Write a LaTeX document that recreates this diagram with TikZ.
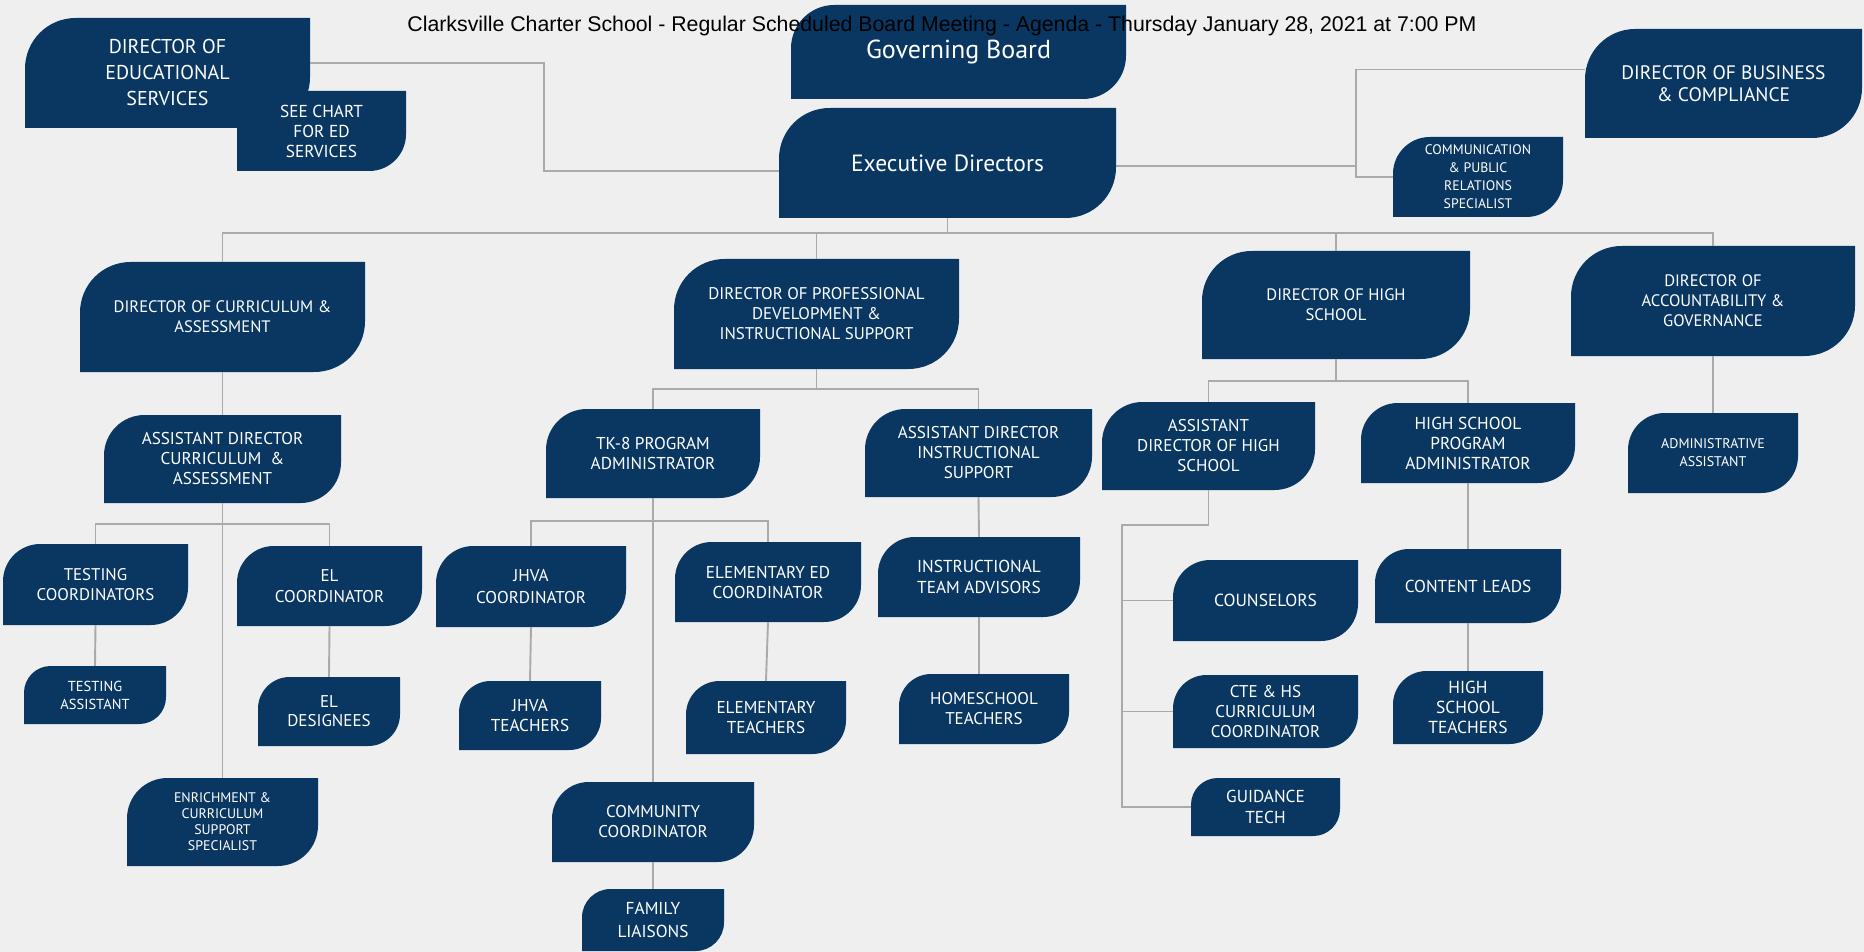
\documentclass[tikz,border=0pt]{standalone}
\usepackage{fontspec}
\setmainfont{PT Sans}
\newfontfamily\titlefont{Liberation Sans}
\definecolor{boxblue}{RGB}{9,55,97}
\definecolor{bgc}{RGB}{239,239,239}
\definecolor{linegray}{RGB}{170,170,170}
\tikzset{
  boxtext/.style={text=white, align=center, inner sep=0pt},
  conn/.style={draw=linegray, line width=1.9pt},
}
\newcommand\orgbox[7]{%
  \pgfmathsetmacro\bR{min(0.46*(#5-#3),52)}%
  \pgfmathsetmacro\bK{0.5523*\bR}%
  \fill[boxblue] (#2,#5) -- (#2,{#3+\bR}) .. controls (#2,{#3+\bR-\bK}) and ({#2+\bR-\bK},#3) .. ({#2+\bR},#3) -- (#4,#3) -- (#4,{#5-\bR}) .. controls (#4,{#5-\bR+\bK}) and ({#4-\bR+\bK},#5) .. ({#4-\bR},#5) -- cycle;
  \node[boxtext, font=\fontsize#6\selectfont, minimum width={#4-#2}, minimum height={#5-#3}] (#1) at ({(#2+#4)/2},{(#3+#5)/2}) {#7};
}
\begin{document}
\begin{tikzpicture}[x=1pt,y=-1pt]
\fill[bgc] (0,0) rectangle (1864,952);
\useasboundingbox (0,0) rectangle (1864,952);

% ---------- boxes ----------
\orgbox{des}{25}{18}{310}{128}{{20}{26}}{DIRECTOR OF\\EDUCATIONAL\\SERVICES}
\orgbox{see}{237}{91}{406}{171}{{17.3}{20}}{SEE CHART\\FOR ED\\SERVICES}
\orgbox{gb}{791}{5}{1126}{99}{{26}{28}}{Governing Board}
\orgbox{exec}{779}{108}{1116}{218}{{23.5}{26}}{Executive Directors}
\orgbox{busi}{1585}{29}{1862}{138}{{19.5}{22}}{DIRECTOR OF BUSINESS\\\& COMPLIANCE}
\orgbox{comm}{1393}{137}{1563}{217}{{13.8}{18}}{COMMUNICATION\\\& PUBLIC\\RELATIONS\\SPECIALIST}

\orgbox{dca}{80}{262}{365}{372}{{16.6}{20}}{DIRECTOR OF CURRICULUM \&\\ASSESSMENT}
\orgbox{adca}{104}{415}{341}{503}{{17.1}{20}}{ASSISTANT DIRECTOR\\CURRICULUM \ \&\\ASSESSMENT}
\orgbox{tc}{3}{544}{188}{625}{{16.9}{20}}{TESTING\\COORDINATORS}
\orgbox{ta}{24}{666}{166}{724}{{14.5}{18}}{TESTING\\ASSISTANT}
\orgbox{elc}{237}{546}{422}{626}{{17}{21}}{EL\\COORDINATOR}
\orgbox{eld}{258}{677}{400}{746}{{17}{19}}{EL\\DESIGNEES}
\orgbox{enr}{127}{778}{318}{866}{{13.9}{16}}{ENRICHMENT \&\\CURRICULUM\\SUPPORT\\SPECIALIST}

\orgbox{pd}{674}{259}{959}{369}{{16.9}{20}}{DIRECTOR OF PROFESSIONAL\\DEVELOPMENT \&\\INSTRUCTIONAL SUPPORT}
\orgbox{tk8}{546}{409}{760}{498}{{17.2}{20}}{TK-8 PROGRAM\\ADMINISTRATOR}
\orgbox{adis}{865}{409}{1092}{497}{{17.1}{20}}{ASSISTANT DIRECTOR\\INSTRUCTIONAL\\SUPPORT}
\orgbox{jhc}{436}{546}{626}{627}{{17.1}{22}}{JHVA\\COORDINATOR}
\orgbox{jht}{459}{681}{601}{750}{{17.2}{20}}{JHVA\\TEACHERS}
\orgbox{eec}{675}{542}{861}{622}{{17.2}{20}}{ELEMENTARY ED\\COORDINATOR}
\orgbox{eet}{686}{681}{846}{754}{{17.2}{20}}{ELEMENTARY\\TEACHERS}
\orgbox{com}{552}{782}{754}{862}{{17}{20}}{COMMUNITY\\COORDINATOR}
\orgbox{fam}{582}{889}{724}{951}{{17.3}{23}}{FAMILY\\LIAISONS}
\orgbox{ita}{878}{537}{1080}{617}{{17.3}{21}}{INSTRUCTIONAL\\TEAM ADVISORS}
\orgbox{hst}{899}{674}{1069}{744}{{17}{20}}{HOMESCHOOL\\TEACHERS}

\orgbox{dhs}{1202}{251}{1470}{359}{{16.6}{20}}{DIRECTOR OF HIGH\\SCHOOL}
\orgbox{adhs}{1102}{402}{1315}{490}{{17}{20}}{ASSISTANT\\DIRECTOR OF HIGH\\SCHOOL}
\orgbox{hspa}{1361}{403}{1575}{483}{{17.3}{20}}{HIGH SCHOOL\\PROGRAM\\ADMINISTRATOR}
\orgbox{cou}{1173}{560}{1358}{641}{{17.5}{20}}{COUNSELORS}
\orgbox{cte}{1173}{675}{1358}{748}{{17}{20}}{CTE \& HS\\CURRICULUM\\COORDINATOR}
\orgbox{gt}{1191}{778}{1340}{836}{{17.3}{21}}{GUIDANCE\\TECH}
\orgbox{cl}{1375}{549}{1561}{623}{{17.3}{20}}{CONTENT LEADS}
\orgbox{hsteach}{1393}{671}{1543}{744}{{17.4}{20}}{HIGH\\SCHOOL\\TEACHERS}

\orgbox{dag}{1571}{246}{1855}{356}{{16.6}{20}}{DIRECTOR OF\\ACCOUNTABILITY \&\\GOVERNANCE}
\orgbox{aa}{1628}{413}{1798}{493}{{14}{18}}{ADMINISTRATIVE\\ASSISTANT}

% ---------- connector junctions ----------
\coordinate (kdes) at (544,0);
\coordinate (kexe) at (1356,0);
\coordinate (btop) at (0,233);
\coordinate (bcur) at (0,524);
\coordinate (bpd) at (0,389);
\coordinate (btk) at (0,521);
\coordinate (bhs) at (0,381);
\coordinate (khs) at (1122,525);

% ---------- connectors ----------
\draw[conn] ([yshift=10pt]des.east) -| ([yshift=-8pt]exec.west -| kdes) -- ([yshift=-8pt]exec.west);
\draw[conn] ([yshift=-3pt]exec.east) -- ([yshift=-3pt]exec.east -| kexe);
\draw[conn] ([yshift=14pt]busi.west) -| (kexe |- comm.west) -- (comm.west);

\draw[conn] (exec.south) -- (exec.south |- btop);
\draw[conn] (dca.north) -- (dca.north |- btop) -- (dag.north |- btop) -- (dag.north);
\draw[conn] (pd.north |- btop) -- (pd.north);
\draw[conn] (dhs.north |- btop) -- (dhs.north);

\draw[conn] (dca.south) -- (adca.north);
\draw[conn] (adca.south) -- (enr.north);
\draw[conn] (tc.north) -- (tc.north |- bcur) -- (elc.north |- bcur) -- (elc.north);
\draw[conn] (tc.south) -- (ta.north);
\draw[conn] (elc.south) -- (eld.north);

\draw[conn] (pd.south) -- (pd.south |- bpd);
\draw[conn] (tk8.north) -- (tk8.north |- bpd) -- (adis.north |- bpd) -- (adis.north);
\draw[conn] (tk8.south) -- (com.north);
\draw[conn] (jhc.north) -- (jhc.north |- btk) -- (eec.north |- btk) -- (eec.north);
\draw[conn] (jhc.south) -- (jht.north);
\draw[conn] (eec.south) -- (eet.north);
\draw[conn] (com.south) -- (fam.north);
\draw[conn] (adis.south) -- (ita.north);
\draw[conn] (ita.south) -- (ita.south |- hst.north);

\draw[conn] (dhs.south) -- (dhs.south |- bhs);
\draw[conn] (adhs.north) -- (adhs.north |- bhs) -- (hspa.north |- bhs) -- (hspa.north);
\draw[conn] (adhs.south) |- (khs) -- (khs |- gt.west) -- (gt.west);
\draw[conn] (khs |- cou.west) -- (cou.west);
\draw[conn] (khs |- cte.west) -- (cte.west);
\draw[conn] (hspa.south) -- (cl.north);
\draw[conn] (cl.south) -- (hsteach.north);
\draw[conn] (dag.south) -- (aa.north);

% ---------- title ----------
\node[anchor=base, inner sep=0pt, font=\titlefont\fontsize{21.3}{24}\selectfont] (title) at (942,32) {Clarksville Charter School - Regular Scheduled Board Meeting - Agenda - Thursday January 28, 2021 at 7:00 PM};
\end{tikzpicture}
\end{document}
